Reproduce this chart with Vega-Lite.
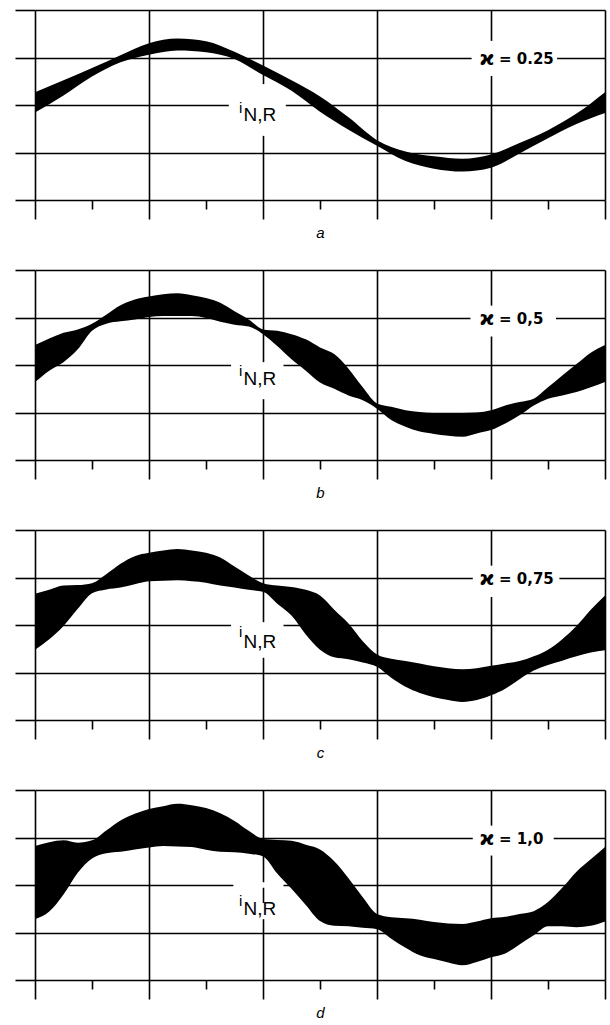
{
  "$schema": "https://vega.github.io/schema/vega-lite/v6.json",
  "background": "white",
  "padding": {"left": 14, "top": 9, "right": 5, "bottom": 5},
  "bounds": "flush",
  "spacing": 70,
  "config": {
    "view": {"stroke": null},
    "text": {"color": "black"}
  },
  "datasets": {
    "band": [
      {"panel": "a", "t": 0, "hi": 0.27, "lo": -0.16},
      {"panel": "a", "t": 0.25, "hi": 0.52, "lo": 0.2},
      {"panel": "a", "t": 0.5, "hi": 0.78, "lo": 0.6},
      {"panel": "a", "t": 0.75, "hi": 1.05, "lo": 0.9},
      {"panel": "a", "t": 1.0, "hi": 1.3, "lo": 1.06},
      {"panel": "a", "t": 1.25, "hi": 1.4, "lo": 1.15},
      {"panel": "a", "t": 1.5, "hi": 1.34, "lo": 1.11},
      {"panel": "a", "t": 1.75, "hi": 1.12, "lo": 0.97},
      {"panel": "a", "t": 2.0, "hi": 0.83, "lo": 0.63},
      {"panel": "a", "t": 2.25, "hi": 0.52, "lo": 0.3},
      {"panel": "a", "t": 2.5, "hi": 0.18, "lo": -0.14},
      {"panel": "a", "t": 2.75, "hi": -0.26, "lo": -0.52},
      {"panel": "a", "t": 3.0, "hi": -0.74, "lo": -0.86},
      {"panel": "a", "t": 3.25, "hi": -0.98, "lo": -1.18},
      {"panel": "a", "t": 3.5, "hi": -1.08, "lo": -1.34},
      {"panel": "a", "t": 3.75, "hi": -1.13, "lo": -1.4},
      {"panel": "a", "t": 4.0, "hi": -1.04, "lo": -1.32},
      {"panel": "a", "t": 4.25, "hi": -0.8, "lo": -1.02},
      {"panel": "a", "t": 4.5, "hi": -0.53, "lo": -0.7},
      {"panel": "a", "t": 4.75, "hi": -0.18, "lo": -0.4},
      {"panel": "a", "t": 5.0, "hi": 0.27, "lo": -0.17},

      {"panel": "b", "t": 0, "hi": 0.42, "lo": -0.36},
      {"panel": "b", "t": 0.125, "hi": 0.56, "lo": -0.12},
      {"panel": "b", "t": 0.25, "hi": 0.68, "lo": 0.06},
      {"panel": "b", "t": 0.375, "hi": 0.75, "lo": 0.33},
      {"panel": "b", "t": 0.5, "hi": 0.87, "lo": 0.72},
      {"panel": "b", "t": 0.625, "hi": 1.06, "lo": 0.87},
      {"panel": "b", "t": 0.75, "hi": 1.26, "lo": 0.92},
      {"panel": "b", "t": 0.875, "hi": 1.38, "lo": 0.96},
      {"panel": "b", "t": 1.0, "hi": 1.44, "lo": 1.01},
      {"panel": "b", "t": 1.125, "hi": 1.49, "lo": 1.03},
      {"panel": "b", "t": 1.25, "hi": 1.51, "lo": 1.03},
      {"panel": "b", "t": 1.375, "hi": 1.47, "lo": 1.03},
      {"panel": "b", "t": 1.5, "hi": 1.41, "lo": 0.99},
      {"panel": "b", "t": 1.625, "hi": 1.31, "lo": 0.91},
      {"panel": "b", "t": 1.75, "hi": 1.13, "lo": 0.85},
      {"panel": "b", "t": 1.875, "hi": 0.96, "lo": 0.81},
      {"panel": "b", "t": 2.0, "hi": 0.75, "lo": 0.65},
      {"panel": "b", "t": 2.125, "hi": 0.72, "lo": 0.4},
      {"panel": "b", "t": 2.25, "hi": 0.65, "lo": 0.12},
      {"panel": "b", "t": 2.375, "hi": 0.54, "lo": -0.12},
      {"panel": "b", "t": 2.5, "hi": 0.37, "lo": -0.37},
      {"panel": "b", "t": 2.625, "hi": 0.23, "lo": -0.5},
      {"panel": "b", "t": 2.75, "hi": -0.08, "lo": -0.64},
      {"panel": "b", "t": 2.875, "hi": -0.47, "lo": -0.74},
      {"panel": "b", "t": 3.0, "hi": -0.81, "lo": -0.92},
      {"panel": "b", "t": 3.125, "hi": -0.88, "lo": -1.16},
      {"panel": "b", "t": 3.25, "hi": -0.95, "lo": -1.3},
      {"panel": "b", "t": 3.375, "hi": -0.99, "lo": -1.4},
      {"panel": "b", "t": 3.5, "hi": -1.01, "lo": -1.45},
      {"panel": "b", "t": 3.625, "hi": -1.01, "lo": -1.49},
      {"panel": "b", "t": 3.75, "hi": -1.01, "lo": -1.51},
      {"panel": "b", "t": 3.875, "hi": -1.0, "lo": -1.44},
      {"panel": "b", "t": 4.0, "hi": -0.95, "lo": -1.37},
      {"panel": "b", "t": 4.125, "hi": -0.85, "lo": -1.23},
      {"panel": "b", "t": 4.25, "hi": -0.78, "lo": -1.06},
      {"panel": "b", "t": 4.375, "hi": -0.71, "lo": -0.85},
      {"panel": "b", "t": 4.5, "hi": -0.47, "lo": -0.71},
      {"panel": "b", "t": 4.625, "hi": -0.22, "lo": -0.64},
      {"panel": "b", "t": 4.75, "hi": 0.02, "lo": -0.57},
      {"panel": "b", "t": 4.875, "hi": 0.26, "lo": -0.47},
      {"panel": "b", "t": 5.0, "hi": 0.42, "lo": -0.36},

      {"panel": "c", "t": 0, "hi": 0.66, "lo": -0.52},
      {"panel": "c", "t": 0.125, "hi": 0.74, "lo": -0.3},
      {"panel": "c", "t": 0.25, "hi": 0.83, "lo": -0.02},
      {"panel": "c", "t": 0.375, "hi": 0.84, "lo": 0.34},
      {"panel": "c", "t": 0.5, "hi": 0.88, "lo": 0.67},
      {"panel": "c", "t": 0.625, "hi": 1.07, "lo": 0.75},
      {"panel": "c", "t": 0.75, "hi": 1.29, "lo": 0.79},
      {"panel": "c", "t": 0.875, "hi": 1.45, "lo": 0.86},
      {"panel": "c", "t": 1.0, "hi": 1.52, "lo": 0.92},
      {"panel": "c", "t": 1.125, "hi": 1.57, "lo": 0.93},
      {"panel": "c", "t": 1.25, "hi": 1.6, "lo": 0.94},
      {"panel": "c", "t": 1.375, "hi": 1.57, "lo": 0.92},
      {"panel": "c", "t": 1.5, "hi": 1.52, "lo": 0.89},
      {"panel": "c", "t": 1.625, "hi": 1.42, "lo": 0.83},
      {"panel": "c", "t": 1.75, "hi": 1.23, "lo": 0.79},
      {"panel": "c", "t": 1.875, "hi": 1.04, "lo": 0.74},
      {"panel": "c", "t": 2.0, "hi": 0.88, "lo": 0.7},
      {"panel": "c", "t": 2.125, "hi": 0.83, "lo": 0.45},
      {"panel": "c", "t": 2.25, "hi": 0.8, "lo": 0.2},
      {"panel": "c", "t": 2.375, "hi": 0.74, "lo": -0.2},
      {"panel": "c", "t": 2.5, "hi": 0.62, "lo": -0.52},
      {"panel": "c", "t": 2.625, "hi": 0.32, "lo": -0.68},
      {"panel": "c", "t": 2.75, "hi": 0.03, "lo": -0.72},
      {"panel": "c", "t": 2.875, "hi": -0.34, "lo": -0.79},
      {"panel": "c", "t": 3.0, "hi": -0.62, "lo": -0.88},
      {"panel": "c", "t": 3.125, "hi": -0.71, "lo": -1.11},
      {"panel": "c", "t": 3.25, "hi": -0.76, "lo": -1.3},
      {"panel": "c", "t": 3.375, "hi": -0.81, "lo": -1.43},
      {"panel": "c", "t": 3.5, "hi": -0.87, "lo": -1.52},
      {"panel": "c", "t": 3.625, "hi": -0.91, "lo": -1.58},
      {"panel": "c", "t": 3.75, "hi": -0.93, "lo": -1.62},
      {"panel": "c", "t": 3.875, "hi": -0.91, "lo": -1.58},
      {"panel": "c", "t": 4.0, "hi": -0.86, "lo": -1.48},
      {"panel": "c", "t": 4.125, "hi": -0.81, "lo": -1.34},
      {"panel": "c", "t": 4.25, "hi": -0.76, "lo": -1.14},
      {"panel": "c", "t": 4.375, "hi": -0.66, "lo": -0.96},
      {"panel": "c", "t": 4.5, "hi": -0.52, "lo": -0.84},
      {"panel": "c", "t": 4.625, "hi": -0.3, "lo": -0.75},
      {"panel": "c", "t": 4.75, "hi": -0.02, "lo": -0.66},
      {"panel": "c", "t": 4.875, "hi": 0.32, "lo": -0.58},
      {"panel": "c", "t": 5.0, "hi": 0.62, "lo": -0.53},

      {"panel": "d", "t": 0, "hi": 0.82, "lo": -0.72},
      {"panel": "d", "t": 0.125, "hi": 0.9, "lo": -0.56},
      {"panel": "d", "t": 0.25, "hi": 0.94, "lo": -0.2},
      {"panel": "d", "t": 0.375, "hi": 0.89, "lo": 0.26},
      {"panel": "d", "t": 0.5, "hi": 0.94, "lo": 0.56},
      {"panel": "d", "t": 0.625, "hi": 1.15, "lo": 0.67},
      {"panel": "d", "t": 0.75, "hi": 1.36, "lo": 0.7},
      {"panel": "d", "t": 0.875, "hi": 1.5, "lo": 0.75},
      {"panel": "d", "t": 1.0, "hi": 1.6, "lo": 0.79},
      {"panel": "d", "t": 1.125, "hi": 1.66, "lo": 0.82},
      {"panel": "d", "t": 1.25, "hi": 1.71, "lo": 0.81},
      {"panel": "d", "t": 1.375, "hi": 1.68, "lo": 0.8},
      {"panel": "d", "t": 1.5, "hi": 1.62, "lo": 0.74},
      {"panel": "d", "t": 1.625, "hi": 1.51, "lo": 0.7},
      {"panel": "d", "t": 1.75, "hi": 1.35, "lo": 0.69},
      {"panel": "d", "t": 1.875, "hi": 1.14, "lo": 0.66},
      {"panel": "d", "t": 2.0, "hi": 0.97, "lo": 0.6},
      {"panel": "d", "t": 2.125, "hi": 0.95, "lo": 0.24},
      {"panel": "d", "t": 2.25, "hi": 0.93, "lo": -0.08},
      {"panel": "d", "t": 2.375, "hi": 0.85, "lo": -0.42},
      {"panel": "d", "t": 2.5, "hi": 0.75, "lo": -0.76},
      {"panel": "d", "t": 2.625, "hi": 0.5, "lo": -0.86},
      {"panel": "d", "t": 2.75, "hi": 0.14, "lo": -0.87},
      {"panel": "d", "t": 2.875, "hi": -0.26, "lo": -0.9},
      {"panel": "d", "t": 3.0, "hi": -0.61, "lo": -0.93},
      {"panel": "d", "t": 3.125, "hi": -0.68, "lo": -1.13},
      {"panel": "d", "t": 3.25, "hi": -0.7, "lo": -1.32},
      {"panel": "d", "t": 3.375, "hi": -0.73, "lo": -1.48},
      {"panel": "d", "t": 3.5, "hi": -0.78, "lo": -1.56},
      {"panel": "d", "t": 3.625, "hi": -0.81, "lo": -1.63},
      {"panel": "d", "t": 3.75, "hi": -0.82, "lo": -1.69},
      {"panel": "d", "t": 3.875, "hi": -0.77, "lo": -1.62},
      {"panel": "d", "t": 4.0, "hi": -0.7, "lo": -1.52},
      {"panel": "d", "t": 4.125, "hi": -0.67, "lo": -1.44},
      {"panel": "d", "t": 4.25, "hi": -0.61, "lo": -1.25},
      {"panel": "d", "t": 4.375, "hi": -0.55, "lo": -1.06},
      {"panel": "d", "t": 4.5, "hi": -0.36, "lo": -0.87},
      {"panel": "d", "t": 4.625, "hi": -0.06, "lo": -0.87},
      {"panel": "d", "t": 4.75, "hi": 0.28, "lo": -0.89},
      {"panel": "d", "t": 4.875, "hi": 0.54, "lo": -0.86},
      {"panel": "d", "t": 5.0, "hi": 0.8, "lo": -0.77}
    ],
    "gaps": [
      {"panel": "a", "x0": 3.83, "x1": 4.58, "y0": 0.93, "y1": 1.07},
      {"panel": "a", "x0": 3.96, "x1": 4.04, "y0": 0.61, "y1": 1.35},
      {"panel": "a", "x0": 1.7, "x1": 2.2, "y0": -0.06, "y1": 0.06},
      {"panel": "a", "x0": 1.96, "x1": 2.04, "y0": -0.65, "y1": 0.44},
      {"panel": "b", "x0": 3.82, "x1": 4.57, "y0": 0.93, "y1": 1.07},
      {"panel": "b", "x0": 3.96, "x1": 4.04, "y0": 0.6, "y1": 1.25},
      {"panel": "b", "x0": 1.72, "x1": 2.18, "y0": -0.06, "y1": 0.06},
      {"panel": "b", "x0": 1.96, "x1": 2.04, "y0": -0.72, "y1": 0.05},
      {"panel": "c", "x0": 3.84, "x1": 4.6, "y0": 0.93, "y1": 1.07},
      {"panel": "c", "x0": 3.96, "x1": 4.04, "y0": 0.59, "y1": 1.25},
      {"panel": "c", "x0": 1.72, "x1": 2.18, "y0": -0.06, "y1": 0.06},
      {"panel": "c", "x0": 1.96, "x1": 2.04, "y0": -0.69, "y1": 0.05},
      {"panel": "d", "x0": 3.84, "x1": 4.55, "y0": 0.93, "y1": 1.07},
      {"panel": "d", "x0": 3.96, "x1": 4.04, "y0": 0.62, "y1": 1.25},
      {"panel": "d", "x0": 1.74, "x1": 2.18, "y0": -0.06, "y1": 0.06},
      {"panel": "d", "x0": 1.96, "x1": 2.04, "y0": -0.72, "y1": -0.38}
    ],
    "labels": [
      {"panel": "a", "kind": "kappa", "t": 3.9, "v": 0.85, "text": "ϰ"},
      {"panel": "a", "kind": "value", "t": 4.07, "v": 0.87, "text": "= 0.25"},
      {"panel": "a", "kind": "sym", "t": 1.79, "v": -0.17, "text": "i"},
      {"panel": "a", "kind": "sub", "t": 1.83, "v": -0.34, "text": "N,R"},
      {"panel": "b", "kind": "kappa", "t": 3.9, "v": 0.85, "text": "ϰ"},
      {"panel": "b", "kind": "value", "t": 4.07, "v": 0.87, "text": "= 0,5"},
      {"panel": "b", "kind": "sym", "t": 1.79, "v": -0.23, "text": "i"},
      {"panel": "b", "kind": "sub", "t": 1.83, "v": -0.42, "text": "N,R"},
      {"panel": "c", "kind": "kappa", "t": 3.9, "v": 0.85, "text": "ϰ"},
      {"panel": "c", "kind": "value", "t": 4.07, "v": 0.87, "text": "= 0,75"},
      {"panel": "c", "kind": "sym", "t": 1.79, "v": -0.25, "text": "i"},
      {"panel": "c", "kind": "sub", "t": 1.83, "v": -0.48, "text": "N,R"},
      {"panel": "d", "kind": "kappa", "t": 3.9, "v": 0.85, "text": "ϰ"},
      {"panel": "d", "kind": "value", "t": 4.07, "v": 0.87, "text": "= 1,0"},
      {"panel": "d", "kind": "sym", "t": 1.79, "v": -0.44, "text": "i"},
      {"panel": "d", "kind": "sub", "t": 1.83, "v": -0.63, "text": "N,R"}
    ]
  },
  "vconcat": [
    {
      "width": 570, "height": 190,
      "layer": [
        {"data": {"name": "gaps"}, "transform": [{"filter": "datum.panel === 'a'"}],
         "mark": {"type": "rect", "color": "white"},
         "encoding": {"x": {"field": "x0", "type": "quantitative", "scale": {"domain": [0, 5], "nice": false, "zero": false}},
                      "x2": {"field": "x1"},
                      "y": {"field": "y0", "type": "quantitative", "scale": {"domain": [-2, 2], "nice": false, "zero": false}},
                      "y2": {"field": "y1"}}},
        {"data": {"name": "band"}, "transform": [{"filter": "datum.panel === 'a'"}],
         "mark": {"type": "area", "color": "black", "interpolate": "monotone"},
         "encoding": {"x": {"field": "t", "type": "quantitative", "scale": {"domain": [0, 5], "nice": false, "zero": false},
                            "axis": {"values": [0, 0.5, 1, 1.5, 2, 2.5, 3, 3.5, 4, 4.5, 5], "labels": false, "domain": false, "grid": true, "gridColor": "black", "gridWidth": 1.6,
                                     "gridOpacity": {"condition": {"test": "datum.value % 1 !== 0", "value": 0}, "value": 1},
                                     "tickColor": "black", "tickWidth": 1.6,
                                     "tickSize": {"condition": {"test": "datum.value % 1 !== 0", "value": 9}, "value": 19},
                                     "title": "a", "titleFont": "Liberation Sans", "titleFontStyle": "italic", "titleFontWeight": "normal", "titleFontSize": 15, "titleColor": "black", "titlePadding": 6}},
                      "y": {"field": "hi", "type": "quantitative", "scale": {"domain": [-2, 2], "nice": false, "zero": false},
                            "axis": {"values": [-2, -1.5, -1, -0.5, 0, 0.5, 1, 1.5, 2], "labels": false, "domain": false, "grid": true, "gridColor": "black", "gridWidth": 1.6,
                                     "gridOpacity": {"condition": {"test": "datum.value % 1 !== 0", "value": 0}, "value": 1},
                                     "tickColor": "black", "tickWidth": 1.6,
                                     "tickSize": {"condition": {"test": "datum.value % 1 !== 0", "value": 10}, "value": 20},
                                     "title": null}},
                      "y2": {"field": "lo"}}},
        {"data": {"name": "labels"}, "transform": [{"filter": "datum.panel === 'a' && datum.kind === 'kappa'"}],
         "mark": {"type": "text", "align": "left", "baseline": "alphabetic", "font": "DejaVu Sans", "fontWeight": "bold", "fontSize": 20},
         "encoding": {"x": {"field": "t", "type": "quantitative", "scale": {"domain": [0, 5], "nice": false, "zero": false}}, "y": {"field": "v", "type": "quantitative", "scale": {"domain": [-2, 2], "nice": false, "zero": false}}, "text": {"field": "text"}}},
        {"data": {"name": "labels"}, "transform": [{"filter": "datum.panel === 'a' && datum.kind === 'value'"}],
         "mark": {"type": "text", "align": "left", "baseline": "alphabetic", "font": "DejaVu Sans", "fontWeight": "bold", "fontSize": 15},
         "encoding": {"x": {"field": "t", "type": "quantitative", "scale": {"domain": [0, 5], "nice": false, "zero": false}}, "y": {"field": "v", "type": "quantitative", "scale": {"domain": [-2, 2], "nice": false, "zero": false}}, "text": {"field": "text"}}},
        {"data": {"name": "labels"}, "transform": [{"filter": "datum.panel === 'a' && datum.kind === 'sym'"}],
         "mark": {"type": "text", "align": "left", "baseline": "alphabetic", "font": "Liberation Sans", "fontSize": 15},
         "encoding": {"x": {"field": "t", "type": "quantitative", "scale": {"domain": [0, 5], "nice": false, "zero": false}}, "y": {"field": "v", "type": "quantitative", "scale": {"domain": [-2, 2], "nice": false, "zero": false}}, "text": {"field": "text"}}},
        {"data": {"name": "labels"}, "transform": [{"filter": "datum.panel === 'a' && datum.kind === 'sub'"}],
         "mark": {"type": "text", "align": "left", "baseline": "alphabetic", "font": "Liberation Sans", "fontSize": 19},
         "encoding": {"x": {"field": "t", "type": "quantitative", "scale": {"domain": [0, 5], "nice": false, "zero": false}}, "y": {"field": "v", "type": "quantitative", "scale": {"domain": [-2, 2], "nice": false, "zero": false}}, "text": {"field": "text"}}}
      ]
    },
    {
      "width": 570, "height": 190,
      "layer": [
        {"data": {"name": "gaps"}, "transform": [{"filter": "datum.panel === 'b'"}],
         "mark": {"type": "rect", "color": "white"},
         "encoding": {"x": {"field": "x0", "type": "quantitative", "scale": {"domain": [0, 5], "nice": false, "zero": false}},
                      "x2": {"field": "x1"},
                      "y": {"field": "y0", "type": "quantitative", "scale": {"domain": [-2, 2], "nice": false, "zero": false}},
                      "y2": {"field": "y1"}}},
        {"data": {"name": "band"}, "transform": [{"filter": "datum.panel === 'b'"}],
         "mark": {"type": "area", "color": "black", "interpolate": "monotone"},
         "encoding": {"x": {"field": "t", "type": "quantitative", "scale": {"domain": [0, 5], "nice": false, "zero": false},
                            "axis": {"values": [0, 0.5, 1, 1.5, 2, 2.5, 3, 3.5, 4, 4.5, 5], "labels": false, "domain": false, "grid": true, "gridColor": "black", "gridWidth": 1.6,
                                     "gridOpacity": {"condition": {"test": "datum.value % 1 !== 0", "value": 0}, "value": 1},
                                     "tickColor": "black", "tickWidth": 1.6,
                                     "tickSize": {"condition": {"test": "datum.value % 1 !== 0", "value": 9}, "value": 19},
                                     "title": "b", "titleFont": "Liberation Sans", "titleFontStyle": "italic", "titleFontWeight": "normal", "titleFontSize": 15, "titleColor": "black", "titlePadding": 6}},
                      "y": {"field": "hi", "type": "quantitative", "scale": {"domain": [-2, 2], "nice": false, "zero": false},
                            "axis": {"values": [-2, -1.5, -1, -0.5, 0, 0.5, 1, 1.5, 2], "labels": false, "domain": false, "grid": true, "gridColor": "black", "gridWidth": 1.6,
                                     "gridOpacity": {"condition": {"test": "datum.value % 1 !== 0", "value": 0}, "value": 1},
                                     "tickColor": "black", "tickWidth": 1.6,
                                     "tickSize": {"condition": {"test": "datum.value % 1 !== 0", "value": 10}, "value": 20},
                                     "title": null}},
                      "y2": {"field": "lo"}}},
        {"data": {"name": "labels"}, "transform": [{"filter": "datum.panel === 'b' && datum.kind === 'kappa'"}],
         "mark": {"type": "text", "align": "left", "baseline": "alphabetic", "font": "DejaVu Sans", "fontWeight": "bold", "fontSize": 20},
         "encoding": {"x": {"field": "t", "type": "quantitative", "scale": {"domain": [0, 5], "nice": false, "zero": false}}, "y": {"field": "v", "type": "quantitative", "scale": {"domain": [-2, 2], "nice": false, "zero": false}}, "text": {"field": "text"}}},
        {"data": {"name": "labels"}, "transform": [{"filter": "datum.panel === 'b' && datum.kind === 'value'"}],
         "mark": {"type": "text", "align": "left", "baseline": "alphabetic", "font": "DejaVu Sans", "fontWeight": "bold", "fontSize": 15},
         "encoding": {"x": {"field": "t", "type": "quantitative", "scale": {"domain": [0, 5], "nice": false, "zero": false}}, "y": {"field": "v", "type": "quantitative", "scale": {"domain": [-2, 2], "nice": false, "zero": false}}, "text": {"field": "text"}}},
        {"data": {"name": "labels"}, "transform": [{"filter": "datum.panel === 'b' && datum.kind === 'sym'"}],
         "mark": {"type": "text", "align": "left", "baseline": "alphabetic", "font": "Liberation Sans", "fontSize": 15},
         "encoding": {"x": {"field": "t", "type": "quantitative", "scale": {"domain": [0, 5], "nice": false, "zero": false}}, "y": {"field": "v", "type": "quantitative", "scale": {"domain": [-2, 2], "nice": false, "zero": false}}, "text": {"field": "text"}}},
        {"data": {"name": "labels"}, "transform": [{"filter": "datum.panel === 'b' && datum.kind === 'sub'"}],
         "mark": {"type": "text", "align": "left", "baseline": "alphabetic", "font": "Liberation Sans", "fontSize": 19},
         "encoding": {"x": {"field": "t", "type": "quantitative", "scale": {"domain": [0, 5], "nice": false, "zero": false}}, "y": {"field": "v", "type": "quantitative", "scale": {"domain": [-2, 2], "nice": false, "zero": false}}, "text": {"field": "text"}}}
      ]
    },
    {
      "width": 570, "height": 190,
      "layer": [
        {"data": {"name": "gaps"}, "transform": [{"filter": "datum.panel === 'c'"}],
         "mark": {"type": "rect", "color": "white"},
         "encoding": {"x": {"field": "x0", "type": "quantitative", "scale": {"domain": [0, 5], "nice": false, "zero": false}},
                      "x2": {"field": "x1"},
                      "y": {"field": "y0", "type": "quantitative", "scale": {"domain": [-2, 2], "nice": false, "zero": false}},
                      "y2": {"field": "y1"}}},
        {"data": {"name": "band"}, "transform": [{"filter": "datum.panel === 'c'"}],
         "mark": {"type": "area", "color": "black", "interpolate": "monotone"},
         "encoding": {"x": {"field": "t", "type": "quantitative", "scale": {"domain": [0, 5], "nice": false, "zero": false},
                            "axis": {"values": [0, 0.5, 1, 1.5, 2, 2.5, 3, 3.5, 4, 4.5, 5], "labels": false, "domain": false, "grid": true, "gridColor": "black", "gridWidth": 1.6,
                                     "gridOpacity": {"condition": {"test": "datum.value % 1 !== 0", "value": 0}, "value": 1},
                                     "tickColor": "black", "tickWidth": 1.6,
                                     "tickSize": {"condition": {"test": "datum.value % 1 !== 0", "value": 9}, "value": 19},
                                     "title": "c", "titleFont": "Liberation Sans", "titleFontStyle": "italic", "titleFontWeight": "normal", "titleFontSize": 15, "titleColor": "black", "titlePadding": 6}},
                      "y": {"field": "hi", "type": "quantitative", "scale": {"domain": [-2, 2], "nice": false, "zero": false},
                            "axis": {"values": [-2, -1.5, -1, -0.5, 0, 0.5, 1, 1.5, 2], "labels": false, "domain": false, "grid": true, "gridColor": "black", "gridWidth": 1.6,
                                     "gridOpacity": {"condition": {"test": "datum.value % 1 !== 0", "value": 0}, "value": 1},
                                     "tickColor": "black", "tickWidth": 1.6,
                                     "tickSize": {"condition": {"test": "datum.value % 1 !== 0", "value": 10}, "value": 20},
                                     "title": null}},
                      "y2": {"field": "lo"}}},
        {"data": {"name": "labels"}, "transform": [{"filter": "datum.panel === 'c' && datum.kind === 'kappa'"}],
         "mark": {"type": "text", "align": "left", "baseline": "alphabetic", "font": "DejaVu Sans", "fontWeight": "bold", "fontSize": 20},
         "encoding": {"x": {"field": "t", "type": "quantitative", "scale": {"domain": [0, 5], "nice": false, "zero": false}}, "y": {"field": "v", "type": "quantitative", "scale": {"domain": [-2, 2], "nice": false, "zero": false}}, "text": {"field": "text"}}},
        {"data": {"name": "labels"}, "transform": [{"filter": "datum.panel === 'c' && datum.kind === 'value'"}],
         "mark": {"type": "text", "align": "left", "baseline": "alphabetic", "font": "DejaVu Sans", "fontWeight": "bold", "fontSize": 15},
         "encoding": {"x": {"field": "t", "type": "quantitative", "scale": {"domain": [0, 5], "nice": false, "zero": false}}, "y": {"field": "v", "type": "quantitative", "scale": {"domain": [-2, 2], "nice": false, "zero": false}}, "text": {"field": "text"}}},
        {"data": {"name": "labels"}, "transform": [{"filter": "datum.panel === 'c' && datum.kind === 'sym'"}],
         "mark": {"type": "text", "align": "left", "baseline": "alphabetic", "font": "Liberation Sans", "fontSize": 15},
         "encoding": {"x": {"field": "t", "type": "quantitative", "scale": {"domain": [0, 5], "nice": false, "zero": false}}, "y": {"field": "v", "type": "quantitative", "scale": {"domain": [-2, 2], "nice": false, "zero": false}}, "text": {"field": "text"}}},
        {"data": {"name": "labels"}, "transform": [{"filter": "datum.panel === 'c' && datum.kind === 'sub'"}],
         "mark": {"type": "text", "align": "left", "baseline": "alphabetic", "font": "Liberation Sans", "fontSize": 19},
         "encoding": {"x": {"field": "t", "type": "quantitative", "scale": {"domain": [0, 5], "nice": false, "zero": false}}, "y": {"field": "v", "type": "quantitative", "scale": {"domain": [-2, 2], "nice": false, "zero": false}}, "text": {"field": "text"}}}
      ]
    },
    {
      "width": 570, "height": 190,
      "layer": [
        {"data": {"name": "gaps"}, "transform": [{"filter": "datum.panel === 'd'"}],
         "mark": {"type": "rect", "color": "white"},
         "encoding": {"x": {"field": "x0", "type": "quantitative", "scale": {"domain": [0, 5], "nice": false, "zero": false}},
                      "x2": {"field": "x1"},
                      "y": {"field": "y0", "type": "quantitative", "scale": {"domain": [-2, 2], "nice": false, "zero": false}},
                      "y2": {"field": "y1"}}},
        {"data": {"name": "band"}, "transform": [{"filter": "datum.panel === 'd'"}],
         "mark": {"type": "area", "color": "black", "interpolate": "monotone"},
         "encoding": {"x": {"field": "t", "type": "quantitative", "scale": {"domain": [0, 5], "nice": false, "zero": false},
                            "axis": {"values": [0, 0.5, 1, 1.5, 2, 2.5, 3, 3.5, 4, 4.5, 5], "labels": false, "domain": false, "grid": true, "gridColor": "black", "gridWidth": 1.6,
                                     "gridOpacity": {"condition": {"test": "datum.value % 1 !== 0", "value": 0}, "value": 1},
                                     "tickColor": "black", "tickWidth": 1.6,
                                     "tickSize": {"condition": {"test": "datum.value % 1 !== 0", "value": 9}, "value": 19},
                                     "title": "d", "titleFont": "Liberation Sans", "titleFontStyle": "italic", "titleFontWeight": "normal", "titleFontSize": 15, "titleColor": "black", "titlePadding": 6}},
                      "y": {"field": "hi", "type": "quantitative", "scale": {"domain": [-2, 2], "nice": false, "zero": false},
                            "axis": {"values": [-2, -1.5, -1, -0.5, 0, 0.5, 1, 1.5, 2], "labels": false, "domain": false, "grid": true, "gridColor": "black", "gridWidth": 1.6,
                                     "gridOpacity": {"condition": {"test": "datum.value % 1 !== 0", "value": 0}, "value": 1},
                                     "tickColor": "black", "tickWidth": 1.6,
                                     "tickSize": {"condition": {"test": "datum.value % 1 !== 0", "value": 10}, "value": 20},
                                     "title": null}},
                      "y2": {"field": "lo"}}},
        {"data": {"name": "labels"}, "transform": [{"filter": "datum.panel === 'd' && datum.kind === 'kappa'"}],
         "mark": {"type": "text", "align": "left", "baseline": "alphabetic", "font": "DejaVu Sans", "fontWeight": "bold", "fontSize": 20},
         "encoding": {"x": {"field": "t", "type": "quantitative", "scale": {"domain": [0, 5], "nice": false, "zero": false}}, "y": {"field": "v", "type": "quantitative", "scale": {"domain": [-2, 2], "nice": false, "zero": false}}, "text": {"field": "text"}}},
        {"data": {"name": "labels"}, "transform": [{"filter": "datum.panel === 'd' && datum.kind === 'value'"}],
         "mark": {"type": "text", "align": "left", "baseline": "alphabetic", "font": "DejaVu Sans", "fontWeight": "bold", "fontSize": 15},
         "encoding": {"x": {"field": "t", "type": "quantitative", "scale": {"domain": [0, 5], "nice": false, "zero": false}}, "y": {"field": "v", "type": "quantitative", "scale": {"domain": [-2, 2], "nice": false, "zero": false}}, "text": {"field": "text"}}},
        {"data": {"name": "labels"}, "transform": [{"filter": "datum.panel === 'd' && datum.kind === 'sym'"}],
         "mark": {"type": "text", "align": "left", "baseline": "alphabetic", "font": "Liberation Sans", "fontSize": 15},
         "encoding": {"x": {"field": "t", "type": "quantitative", "scale": {"domain": [0, 5], "nice": false, "zero": false}}, "y": {"field": "v", "type": "quantitative", "scale": {"domain": [-2, 2], "nice": false, "zero": false}}, "text": {"field": "text"}}},
        {"data": {"name": "labels"}, "transform": [{"filter": "datum.panel === 'd' && datum.kind === 'sub'"}],
         "mark": {"type": "text", "align": "left", "baseline": "alphabetic", "font": "Liberation Sans", "fontSize": 19},
         "encoding": {"x": {"field": "t", "type": "quantitative", "scale": {"domain": [0, 5], "nice": false, "zero": false}}, "y": {"field": "v", "type": "quantitative", "scale": {"domain": [-2, 2], "nice": false, "zero": false}}, "text": {"field": "text"}}}
      ]
    }
  ]
}
